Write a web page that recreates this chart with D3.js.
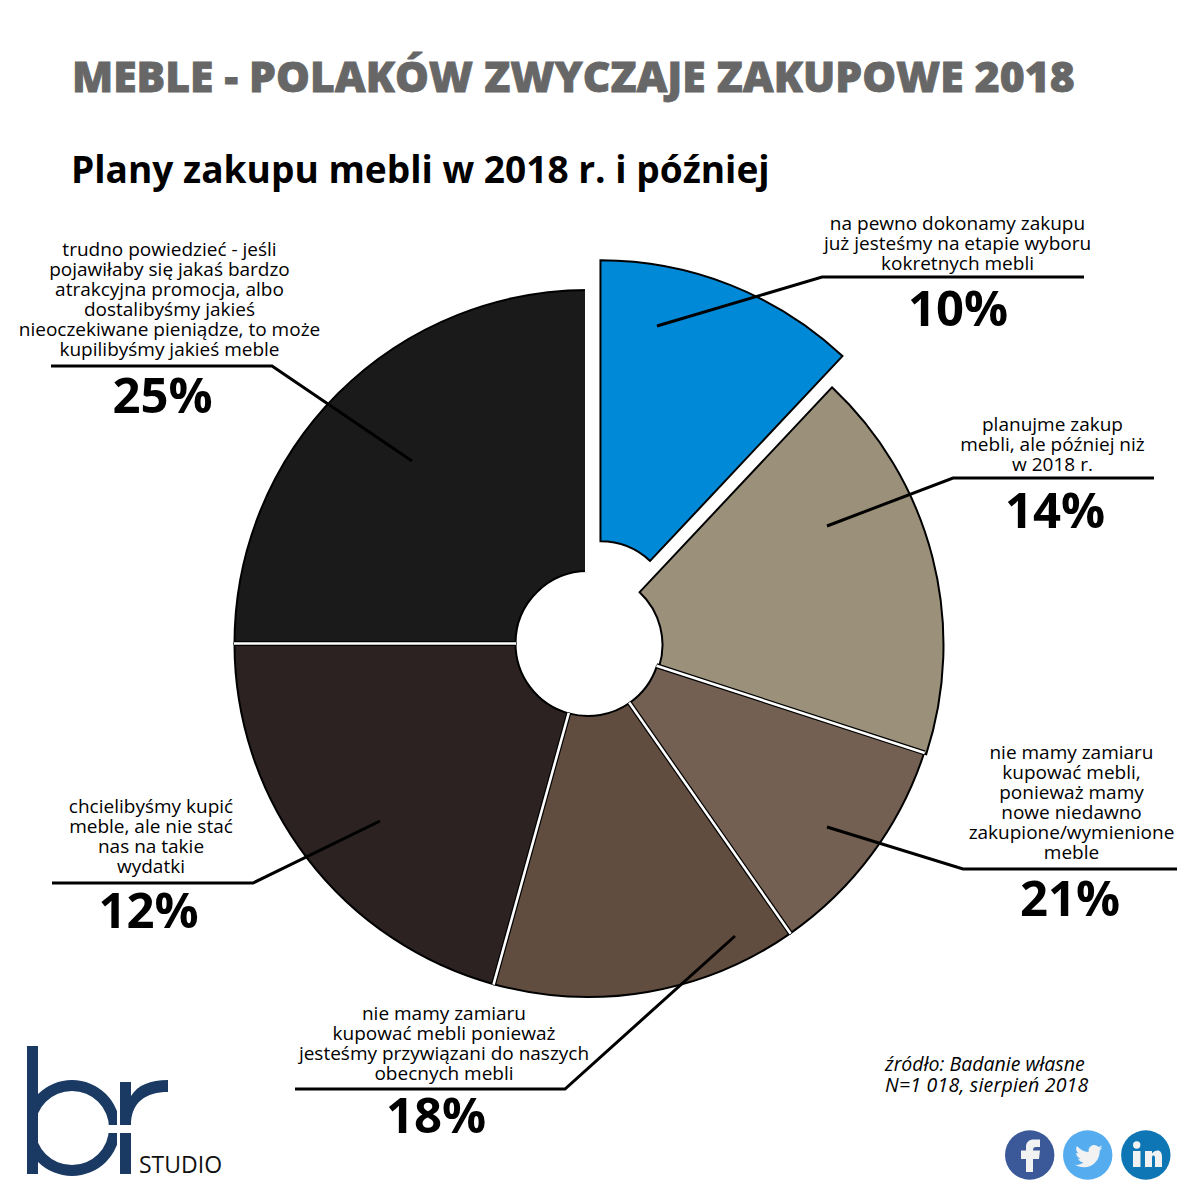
<!DOCTYPE html>
<html><head><meta charset="utf-8">
<script src="https://cdn.jsdelivr.net/npm/d3@7/dist/d3.min.js"></script>
<style>html,body{margin:0;padding:0;background:#fff}svg{display:block}text{font-family:"Open Sans",sans-serif}</style>
</head><body><div id="chart"></div>
<script>
const sliceNames=["blue","khaki","brown light","brown mid","dark","black"];
const sliceValues=[12,18,10.3,14,20.7,25];
const sliceColors=["#0089d6","#9b917a","#736052","#604d3f","#2b2221","#1a1a1a"];
const labelPercents=["10%","14%","21%","18%","12%","25%"];
const labelLines=[
 ["na pewno dokonamy zakupu","już jesteśmy na etapie wyboru","kokretnych mebli"],
 ["planujme zakup","mebli, ale później niż","w 2018 r."],
 ["nie mamy zamiaru","kupować mebli,","ponieważ mamy","nowe niedawno","zakupione/wymienione","meble"],
 ["nie mamy zamiaru","kupować mebli ponieważ","jesteśmy przywiązani do naszych","obecnych mebli"],
 ["chcielibyśmy kupić","meble, ale nie stać","nas na takie","wydatki"],
 ["trudno powiedzieć - jeśli","pojawiłaby się jakaś bardzo","atrakcyjna promocja, albo","dostalibyśmy jakieś","nieoczekiwane pieniądze, to może","kupilibyśmy jakieś meble"]
];
const labelLayout=[
 {x:957.5,y:230,pct:[958,326],line:[[1084,277],[822,277],[657,326]]},
 {x:1052.5,y:431,pct:[1055,528],line:[[1154,478],[953,478],[827,526]]},
 {x:1071.5,y:759,pct:[1070,916],line:[[1177,869],[963,869],[827,827]]},
 {x:444,y:1020,pct:[436,1133],line:[[295,1089],[565,1089],[735,936]]},
 {x:151,y:813,pct:[148.5,928],line:[[52,883],[253,883],[380,821]]},
 {x:169.5,y:256,pct:[162.5,413],line:[[51,366],[272,366],[412,461]]}
];
const cx=588,cy=643.5,R=353.5,r=72.5;
const svg=d3.select("#chart").append("svg").attr("width",1200).attr("height",1200);

svg.append("text").attr("x",72).attr("y",92).attr("font-size",42.6).attr("font-weight",800).attr("fill","#676767").attr("stroke","#676767").attr("stroke-width",0.8).text("MEBLE - POLAKÓW ZWYCZAJE ZAKUPOWE 2018");
svg.append("text").attr("x",71).attr("y",183).attr("font-size",37.1).attr("font-weight",700).attr("fill","#000").text("Plany zakupu mebli w 2018 r. i później");

const pie=d3.pie().sort(null).value(d=>d)(sliceValues);
const arc=d3.arc().innerRadius(r).outerRadius(R);
const g=svg.append("g").attr("transform",`translate(${cx},${cy})`);
g.selectAll("path.slice").data(pie).join("path").attr("class","slice")
 .attr("d",arc).attr("fill",(d,i)=>sliceColors[i]).attr("stroke","#000").attr("stroke-width",2).attr("stroke-linejoin","miter")
 .attr("transform",(d,i)=>{
   const m=(d.startAngle+d.endAngle)/2;
   if(i===0)return `translate(${32.5*Math.sin(m)+0.5},${-32.5*Math.cos(m)+0.5})`;
   if(i===1)return "translate(2,1.5)";
   return null;
 });
const seps=pie.slice(1,5).map(d=>d.endAngle);
const sepLine=(sel,w,c)=>sel.append("g").selectAll("line").data(seps).join("line")
 .attr("x1",a=>(r-0.5)*Math.sin(a)).attr("y1",a=>-(r-0.5)*Math.cos(a))
 .attr("x2",a=>(R+0.5)*Math.sin(a)).attr("y2",a=>-(R+0.5)*Math.cos(a))
 .attr("stroke",c).attr("stroke-width",w);
sepLine(g,5,"#000");
sepLine(g,2.6,"#fff");
g.append("line").attr("x1",0.5).attr("x2",0.5).attr("y1",-R-3).attr("y2",-r+1).attr("stroke","#fff").attr("stroke-width",7);

const lh=20;
const ann=svg.append("g");
labelLayout.forEach((L,i)=>{
 ann.append("path").attr("d",d3.line()(L.line)).attr("fill","none").attr("stroke","#000").attr("stroke-width",3);
 const t=ann.append("text").attr("text-anchor","middle").attr("font-size",19).attr("fill","#000");
 labelLines[i].forEach((s,j)=>t.append("tspan").attr("x",L.x).attr("y",L.y+j*lh).text(s));
 ann.append("text").attr("x",L.pct[0]).attr("y",L.pct[1]).attr("text-anchor","middle").attr("font-size",49).attr("font-weight",700).attr("fill","#000").text(labelPercents[i]);
});

const src=svg.append("text").attr("font-size",19.5).attr("font-style","italic").attr("fill","#000");
src.append("tspan").attr("x",885).attr("y",1071).text("źródło: Badanie własne");
src.append("tspan").attr("x",885).attr("y",1092).attr("letter-spacing",0.22).text("N=1 018, sierpień 2018");

const navy="#1a3a63";
const defs=svg.append("defs");
defs.append("clipPath").attr("id","bowl").append("rect").attr("x",27).attr("y",1070).attr("width",90).attr("height",110);
const logo=svg.append("g");
logo.append("g").attr("clip-path","url(#bowl)").append("path")
 .attr("d",d3.arc().innerRadius(37).outerRadius(48).startAngle(0).endAngle(2*Math.PI)())
 .attr("transform","translate(72,1128)").attr("fill",navy);
logo.append("rect").attr("x",27).attr("y",1046).attr("width",11).attr("height",128).attr("fill",navy);
logo.append("rect").attr("x",105).attr("y",1125).attr("width",15).attr("height",8).attr("fill","#fff");
logo.append("rect").attr("x",120).attr("y",1133).attr("width",11).attr("height",41).attr("fill",navy);
logo.append("path").attr("d","M120 1125 V1082 H131 V1096 C138 1085 150 1080 168 1080 V1092 C146 1092 131 1102 131 1125 Z").attr("fill",navy);
svg.append("text").attr("x",139).attr("y",1173).attr("font-size",23).attr("fill","#111").text("STUDIO");

const ic=svg.append("g");
ic.append("circle").attr("cx",1029.7).attr("cy",1155).attr("r",24.7).attr("fill","#3b5998");
ic.append("path").attr("fill","#f2f2f2").attr("d","M1026 1172 V1159 H1021 V1150.500 H1026 V1147 C1026 1142 1029 1139.500 1034 1139.500 H1040 V1147 H1036 C1034 1147 1033 1148 1033 1150 V1150.500 H1040 L1039 1159 H1033 V1172 Z");
ic.append("circle").attr("cx",1087.7).attr("cy",1155).attr("r",24.7).attr("fill","#55acee");
ic.append("path").attr("transform","translate(1075,1142.4) scale(1.15)").attr("fill","#f2f2f2")
 .attr("d","M24 4.6c-.9.4-1.8.7-2.8.8 1-.6 1.8-1.6 2.2-2.7-1 .6-2 1-3.1 1.2C19.3 2.9 18 2.3 16.7 2.3c-2.7 0-4.9 2.2-4.9 4.9 0 .4 0 .8.1 1.1C7.8 8.100 4.100 6.100 1.700 3.100c-.4.7-.7 1.600-.7 2.500 0 1.700.9 3.200 2.200 4.100-.8 0-1.600-.2-2.200-.6v.1c0 2.400 1.700 4.400 3.900 4.800-.7.200-1.500.2-2.200.1.600 2 2.400 3.400 4.600 3.400-1.700 1.300-3.800 2.100-6.100 2.100-.4 0-.8 0-1.200-.1 2.200 1.400 4.800 2.200 7.500 2.200 9.100 0 14-7.500 14-14v-.6c1-.7 1.800-1.600 2.500-2.600z");
ic.append("circle").attr("cx",1145.8).attr("cy",1155).attr("r",24.7).attr("fill","#0e76b4");
ic.append("circle").attr("cx",1136.7).attr("cy",1145).attr("r",3.7).attr("fill","#f2f2f2");
ic.append("rect").attr("x",1133).attr("y",1151).attr("width",7.5).attr("height",16).attr("fill","#f2f2f2");
ic.append("path").attr("fill","#f2f2f2").attr("d","M1145 1151 H1152 V1153.500 C1153.500 1151.500 1155.500 1150.500 1157.500 1150.500 C1160.500 1150.500 1162 1153 1162 1157 V1167 H1155 V1158 C1155 1156 1154.300 1155.500 1153.300 1155.500 C1152.700 1155.500 1152 1156 1152 1158 V1167 H1145 Z");
</script></body></html>
